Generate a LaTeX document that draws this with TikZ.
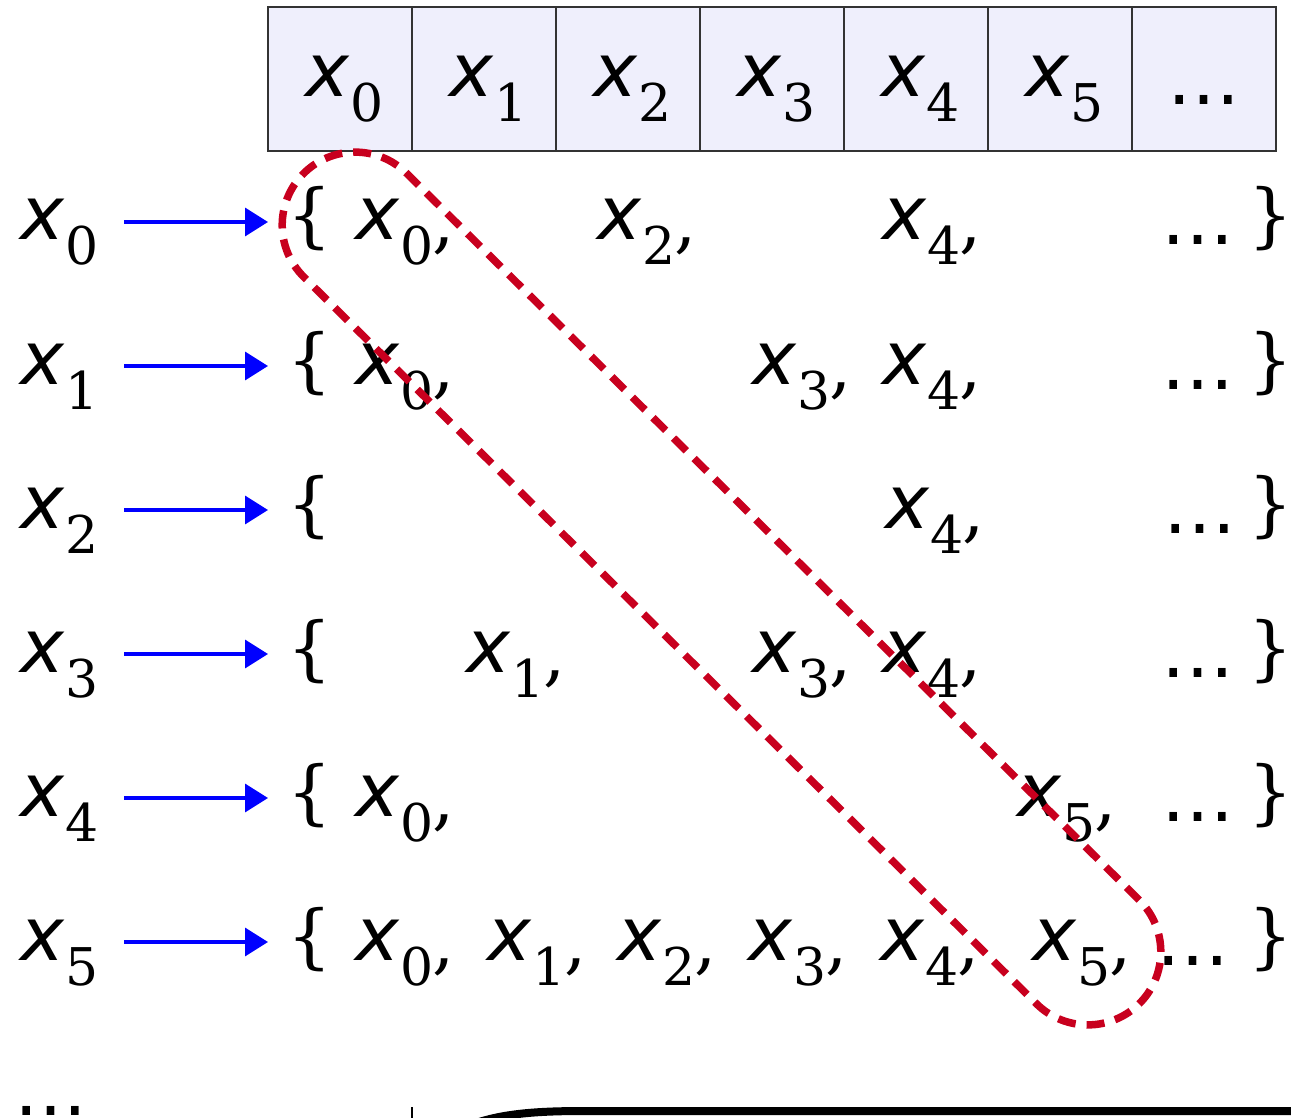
\documentclass[tikz,border=0pt]{standalone}
\usepackage{fontspec}
\usetikzlibrary{arrows.meta}
\newfontfamily\xfont{DejaVu Sans}
\newfontfamily\dfont{DejaVu Serif}
\definecolor{cellfill}{HTML}{EFEFFC}
\definecolor{diagred}{HTML}{C8001E}
\newcommand\xv[1]{{\xfont\itshape\fontsize{74}{80}\selectfont x}\kern2pt\raisebox{-25pt}{\dfont\fontsize{52}{60}\selectfont #1}}
\newcommand\xc[1]{\xv{#1}\kern-1pt\raisebox{-6pt}{\dfont\fontsize{70}{74}\selectfont ,}}
\newcommand\dts{{\xfont\fontsize{73}{80}\selectfont …}}
\newcommand\brl{{\dfont\fontsize{70}{80}\selectfont \{}}
\newcommand\brr{{\dfont\fontsize{70}{80}\selectfont \}}}
\tikzset{
  cell/.style={draw=black!80, line width=1.2pt, fill=cellfill, minimum width=144pt, minimum height=144pt, inner sep=0pt},
  elem/.style={anchor=base west, inner sep=0pt, outer sep=0pt},
  dotsn/.style={anchor=base, inner sep=0pt, outer sep=0pt},
  maparrow/.style={draw=blue, line width=3.5pt, -{Triangle[length=23pt,width=28pt]}},
  diagloop/.style={draw=diagred, line width=7.5pt, dash pattern=on 18pt off 11pt, rounded corners=73pt, minimum width=1178pt, minimum height=146pt, inner sep=0pt}
}
\begin{document}
\begin{tikzpicture}[x=1pt,y=-1pt]
\useasboundingbox (0,0) rectangle (1291,1118);
\clip (0,0) rectangle (1291,1118);
% header cells
\foreach \k in {0,...,6} \node[cell] (h\k) at (340+144*\k, 79) {};
\foreach \k in {0,...,5} \node[elem] (hl\k) at (305+144*\k, 97) {\xv{\k}};
\node[dotsn] (hl6) at (1204, 105) {\dts};
% rows
\foreach \i in {0,...,5} {
  \node[elem] (l\i) at (20, 240+144*\i) {\xv{\i}};
  \coordinate (s\i) at (124, 222+144*\i);
  \coordinate (e\i) at (268, 222+144*\i);
  \draw[maparrow] (s\i) -- (e\i);
  \node[elem] (lb\i) at (287, 240+144*\i) {\brl};
  \node[elem] (rb\i) at (1248, 240+144*\i) {\brr};
}
% row 0
\node[elem] (r0a) at (355,240) {\xc{0}};
\node[elem] (r0b) at (597,240) {\xc{2}};
\node[elem] (r0c) at (882,240) {\xc{4}};
\node[dotsn] (r0d) at (1198,245) {\dts};
% row 1
\node[elem] (r1a) at (355,384) {\xc{0}};
\node[elem] (r1b) at (752,384) {\xc{3}};
\node[elem] (r1c) at (882,384) {\xc{4}};
\node[dotsn] (r1d) at (1198,389) {\dts};
% row 2
\node[elem] (r2a) at (885,528) {\xc{4}};
\node[dotsn] (r2d) at (1200,533) {\dts};
% row 3
\node[elem] (r3a) at (466,672) {\xc{1}};
\node[elem] (r3b) at (752,672) {\xc{3}};
\node[elem] (r3c) at (882,672) {\xc{4}};
\node[dotsn] (r3d) at (1198,677) {\dts};
% row 4
\node[elem] (r4a) at (355,816) {\xc{0}};
\node[elem] (r4b) at (1017,816) {\xc{5}};
\node[dotsn] (r4d) at (1198,821) {\dts};
% row 5
\node[elem] (r5a) at (355,960) {\xc{0}};
\node[elem] (r5b) at (487,960) {\xc{1}};
\node[elem] (r5c) at (617,960) {\xc{2}};
\node[elem] (r5d) at (748,960) {\xc{3}};
\node[elem] (r5e) at (880,960) {\xc{4}};
\node[elem] (r5f) at (1032,960) {\xc{5}};
\node[dotsn] (r5g) at (1193,965) {\dts};
% diagonal loop
\node[diagloop, rotate=-44.77] (diag) at (721.5,588.5) {};
% bottom (cut off) items
\node[elem] (bdots) at (14,1115) {\dts};
\draw[line width=1.2pt] (412,1107) -- (412,1125);
\draw[line width=8pt] (468,1126) .. controls (500,1113) and (540,1111) .. (585,1111) -- (1300,1111);
\end{tikzpicture}
\end{document}
